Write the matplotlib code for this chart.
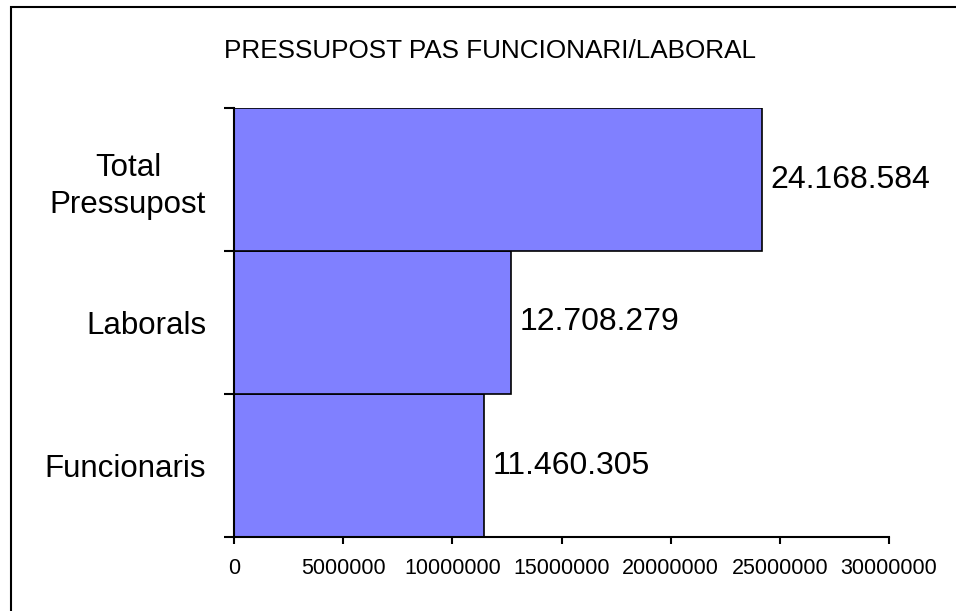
# Horizontal bar chart: pressupost funcionari / laboral.
import matplotlib
matplotlib.use("Agg")
import matplotlib.pyplot as plt
from matplotlib.patches import Rectangle

plt.rcParams['font.family'] = ['Liberation Sans', 'DejaVu Sans']

# Data (bottom to top)
categories = ["Funcionaris", "Laborals", "Total\nPressupost"]
values = [11460305, 12708279, 24168584]
xticks = [0, 5000000, 10000000, 15000000, 20000000, 25000000, 30000000]
title = "PRESSUPOST PAS FUNCIONARI/LABORAL"

fig = plt.figure(figsize=(9.56, 6.11), dpi=100)
ax = fig.add_axes([234/956, 1 - 537/611, (889 - 234)/956, (537 - 108)/611])

pos = range(len(categories))
bars = ax.barh(pos, values, height=1.0, color="#8080FF",
               edgecolor="black", linewidth=1.2)

# value labels with dots as thousands separator
for b, v in zip(bars, values):
    txt = f"{v:,}".replace(",", ".")
    ax.annotate(txt, (b.get_width(), b.get_y() + b.get_height()/2),
                xytext=(6, 0), textcoords="offset points",
                ha="left", va="center", fontsize=23)

ax.set_xlim(0, 30000000)
ax.set_ylim(-0.5, len(categories) - 0.5)
ax.set_xticks(xticks)
ax.set_xticklabels([str(t) for t in xticks])

# tick marks on category boundaries, labels at centres
ax.set_yticks([i - 0.5 for i in range(len(categories) + 1)])
ax.set_yticklabels([])
ax.set_yticks(list(pos), minor=True)
ax.set_yticklabels(categories, minor=True)
for lab in ax.get_yticklabels(minor=True):
    lab.set_multialignment("center")
    lab.set_linespacing(1.3)
ax.tick_params(axis="y", which="minor", length=0, pad=20, labelsize=22.5)
ax.tick_params(axis="y", which="major", length=7, width=1.5, direction="out")
ax.tick_params(axis="x", length=5, width=1.5, direction="out",
               labelsize=15.5, pad=10)

for s in ["top", "right"]:
    ax.spines[s].set_visible(False)
for s in ["left", "bottom"]:
    ax.spines[s].set_linewidth(1.5)

fig.text(490/956, 1 - 51/611, title, ha="center", va="center", fontsize=18.8)

# chart area border (only left/top edges fall inside the image)
fig.patches.append(Rectangle((10.5/956, -0.1), 2, 1.1 - 7.5/611,
                             transform=fig.transFigure, fill=False,
                             edgecolor="black", linewidth=1.5))

fig.savefig("out.png", dpi=100)
